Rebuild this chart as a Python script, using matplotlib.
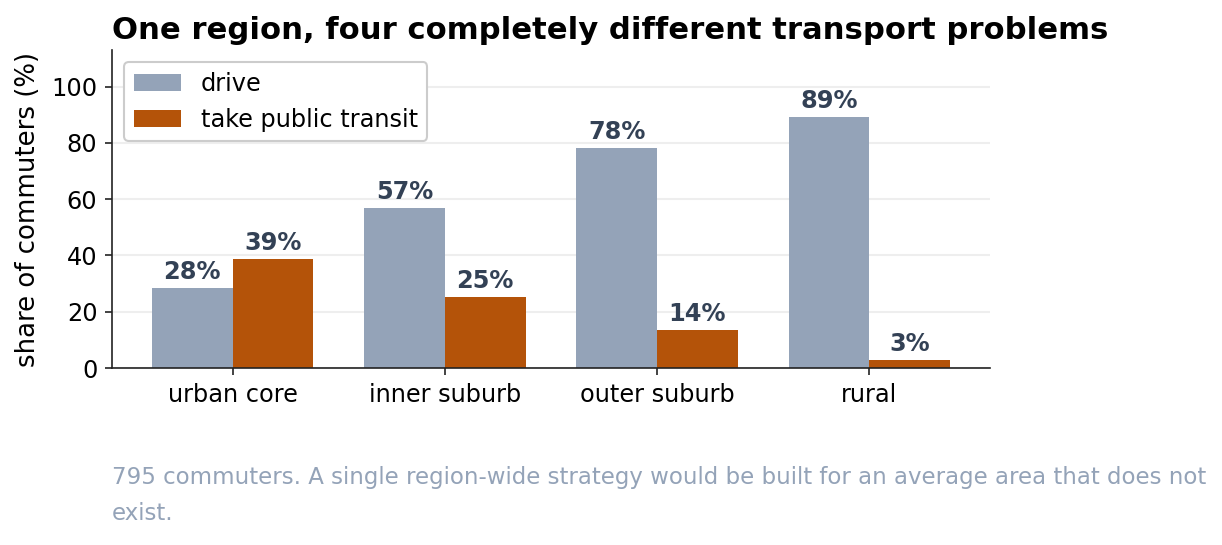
import matplotlib
matplotlib.use("Agg")
import matplotlib.pyplot as plt
import numpy as np

# ── Data ───────────────────────────────────────────────────────────────────────
areas   = ["urban core", "inner suburb", "outer suburb", "rural"]
drive   = [28.4, 56.9, 78.2, 89.3]
transit = [38.8, 25.3, 13.5, 2.8]
series_names = ["drive", "take public transit"]

DRIVE_C   = "#94a3b8"
TRANSIT_C = "#b45309"
LABEL_C   = "#334155"
NOTE_C    = "#94a3b8"
AXIS_C    = "#222222"

fig = plt.figure(figsize=(1222 / 150, 545 / 150), dpi=150)
ax  = fig.add_axes([112 / 1222, 1 - 368 / 545, (990 - 112) / 1222, (368 - 50) / 545])

x = np.arange(len(areas))
w = 0.38
b1 = ax.bar(x - w / 2, drive,   w, color=DRIVE_C,   label=series_names[0], zorder=2)
b2 = ax.bar(x + w / 2, transit, w, color=TRANSIT_C, label=series_names[1], zorder=2)

for bars in (b1, b2):
    ax.bar_label(bars, labels=[f"{v:.0f}%" for v in bars.datavalues],
                 padding=2, fontsize=11.5, fontweight="bold", color=LABEL_C)

ax.set_ylim(0, 113)
ax.set_xticks(x)
ax.set_xticklabels(areas, fontsize=11.5)
ax.tick_params(axis="y", labelsize=11.5)
ax.tick_params(colors=AXIS_C, labelcolor="black")
ax.set_ylabel("share of commuters (%)", fontsize=12.5, labelpad=5)
ax.yaxis.grid(True, color="#eeeeee", lw=1, zorder=0)
ax.set_axisbelow(True)
for s in ("top", "right"):
    ax.spines[s].set_visible(False)
for s in ("left", "bottom"):
    ax.spines[s].set_color(AXIS_C)

ax.legend(loc="upper left", fontsize=11.5, framealpha=1, edgecolor="#cccccc")
ax.set_title("One region, four completely different transport problems",
             loc="left", fontsize=14.7, fontweight="bold", pad=5.5)

fig.text(112 / 1222, 1 - 466 / 545,
         "795 commuters. A single region-wide strategy would be built for an average area that does not\nexist.",
         fontsize=11, color=NOTE_C, va="top", ha="left", linespacing=1.7)

fig.savefig("out.png", dpi=150)
